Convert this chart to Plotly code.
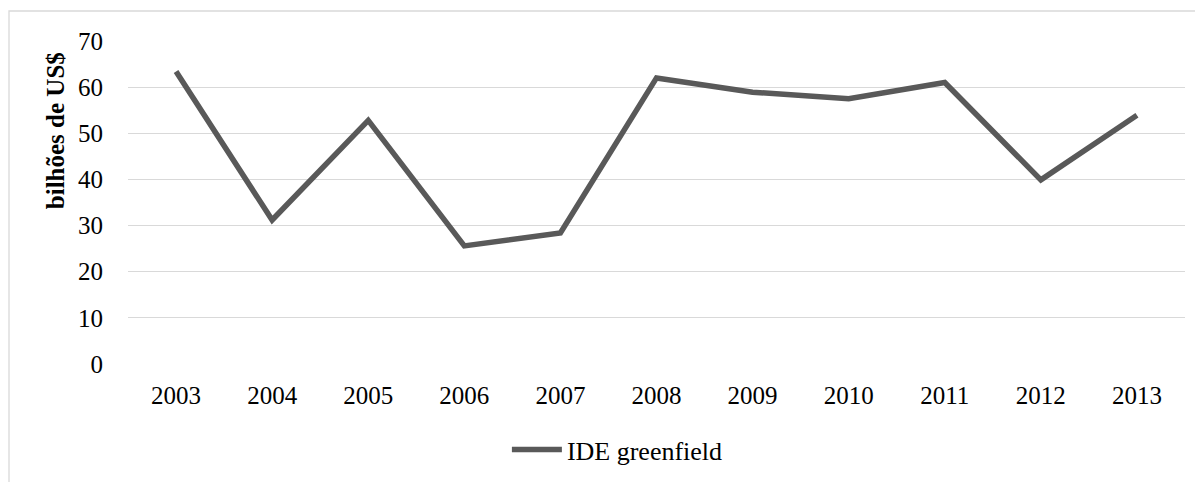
import plotly.graph_objects as go

years = ["2003", "2004", "2005", "2006", "2007", "2008", "2009", "2010", "2011", "2012", "2013"]
ide_greenfield = [63.4, 31.2, 52.8, 25.6, 28.4, 62.0, 58.9, 57.5, 61.0, 39.9, 53.9]
y_ticks = [0, 10, 20, 30, 40, 50, 60, 70]

FONT = "Liberation Serif, Times New Roman, serif"

fig = go.Figure()
fig.add_trace(go.Scatter(
    x=years, y=ide_greenfield, mode="lines", name="IDE greenfield",
    line=dict(color="#595959", width=5.5),
))

fig.update_layout(
    width=1203, height=482,
    margin=dict(l=120, r=26, t=33, b=126, autoexpand=False),
    paper_bgcolor="white", plot_bgcolor="white",
    font=dict(family=FONT, size=25, color="black"),
    showlegend=True,
    legend=dict(orientation="h", x=0.463, xanchor="center", y=-0.265, yanchor="middle",
                font=dict(family=FONT, size=26, color="black"), itemwidth=50,
                bgcolor="rgba(0,0,0,0)"),
    xaxis=dict(type="category", range=[-0.5, 10.5], showgrid=False, showline=False,
               zeroline=False, ticks="", ticklabelstandoff=14, automargin=False,
               tickfont=dict(family=FONT, size=25, color="black")),
    yaxis=dict(range=[0, 70], tickvals=y_ticks, showgrid=True, gridcolor="#d9d9d9",
               gridwidth=1.3, zeroline=False, showline=False, ticks="",
               ticklabelstandoff=24, automargin=False,
               tickfont=dict(family=FONT, size=25, color="black")),
    annotations=[dict(text="<b>bilhões de US$</b>", textangle=-90, xref="paper", yref="paper",
                      x=-0.069, y=0.721, showarrow=False, xanchor="center", yanchor="middle",
                      font=dict(family=FONT, size=25, color="black"))],
    shapes=[dict(type="rect", xref="paper", yref="paper",
                 x0=(1 - 120) / 1057, x1=(1230 - 120) / 1057,
                 y0=-(482 - 356 + 20) / 323, y1=1 + 30 / 323,
                 line=dict(color="#d9d9d9", width=1.3), fillcolor="rgba(0,0,0,0)", layer="below")],
)

fig.write_html("out.html")
